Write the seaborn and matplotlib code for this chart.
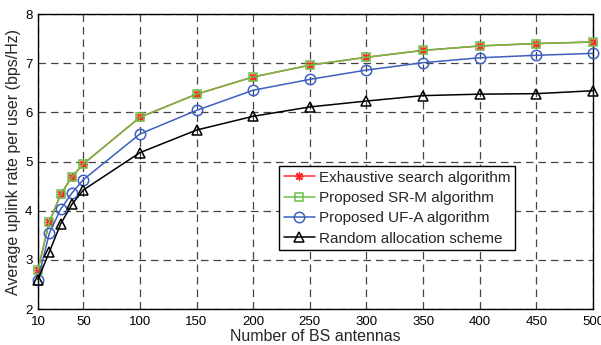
import matplotlib
matplotlib.use("Agg")
import matplotlib.pyplot as plt
import seaborn as sns
import pandas as pd

antennas = [10, 20, 30, 40, 50, 100, 150, 200, 250, 300, 350, 400, 450, 500]
exhaustive = [2.80, 3.77, 4.33, 4.69, 4.95, 5.90, 6.37, 6.72, 6.96, 7.12, 7.26, 7.35, 7.40, 7.43]
sr_m = [2.80, 3.77, 4.33, 4.69, 4.95, 5.90, 6.37, 6.72, 6.96, 7.12, 7.26, 7.35, 7.40, 7.43]
uf_a = [2.60, 3.54, 4.03, 4.36, 4.63, 5.56, 6.04, 6.45, 6.67, 6.86, 7.01, 7.11, 7.16, 7.20]
random_alloc = [2.60, 3.16, 3.73, 4.13, 4.42, 5.18, 5.64, 5.92, 6.11, 6.23, 6.34, 6.37, 6.38, 6.44]

labels = ["Exhaustive search algorithm", "Proposed SR-M algorithm",
          "Proposed UF-A algorithm", "Random allocation scheme"]
xticks = [10, 50, 100, 150, 200, 250, 300, 350, 400, 450, 500]
yticks = [2, 3, 4, 5, 6, 7, 8]

sns.set_style("white")
plt.rcParams["font.family"] = ["Liberation Sans", "DejaVu Sans"]

fig = plt.figure(figsize=(6.01, 3.45), dpi=100)
ax = fig.add_axes([0.0632, 0.1043, 0.9235, 0.8551])

styles = [
    (exhaustive, "#ff2a2a", (8, 2, 0), dict(markersize=6, markeredgewidth=1.0,
                                           markerfacecolor="#ff2a2a", markeredgecolor="#ff2a2a")),
    (sr_m, "#6cbf45", "s", dict(markersize=6, markerfacecolor="none",
                                markeredgecolor="#6cbf45", markeredgewidth=1.1)),
    (uf_a, "#3c5fc0", "o", dict(markersize=7.5, markerfacecolor="none",
                                markeredgecolor="#3c5fc0", markeredgewidth=1.1)),
    (random_alloc, "#000000", "^", dict(markersize=7.5, markerfacecolor="none",
                                        markeredgecolor="#000000", markeredgewidth=1.1)),
]

for (vals, color, mk, kw), lab in zip(styles, labels):
    df = pd.DataFrame({"N": antennas, "rate": vals})
    sns.lineplot(data=df, x="N", y="rate", ax=ax, color=color, marker=mk,
                 linewidth=1.1, label=lab, clip_on=False, zorder=3, **kw)

ax.set_xlim(10, 500)
ax.set_ylim(2, 8)
ax.set_xticks(xticks)
ax.set_yticks(yticks)
ax.grid(True, color="#444444", linestyle=(0, (6, 4)), linewidth=0.9)
ax.set_axisbelow(True)
for s in ax.spines.values():
    s.set_color("black")
    s.set_linewidth(1.0)
ax.tick_params(axis="both", direction="in", length=3, labelsize=9.5, colors="black")
ax.tick_params(axis="x", pad=5)
ax.tick_params(axis="y", pad=4)
ax.set_xlabel("Number of BS antennas", fontsize=11.5, labelpad=1)
ax.set_ylabel("Average uplink rate per user (bps/Hz)", fontsize=11.5, labelpad=3)

leg = ax.legend(loc="upper left", bbox_to_anchor=(0.435, 0.485), fontsize=11,
                frameon=True, fancybox=False, framealpha=1, edgecolor="black",
                borderpad=0.3, labelspacing=0.42, handlelength=2.0,
                handletextpad=0.3, borderaxespad=0)
leg.get_frame().set_linewidth(1.0)

fig.savefig("out.png", dpi=100)
